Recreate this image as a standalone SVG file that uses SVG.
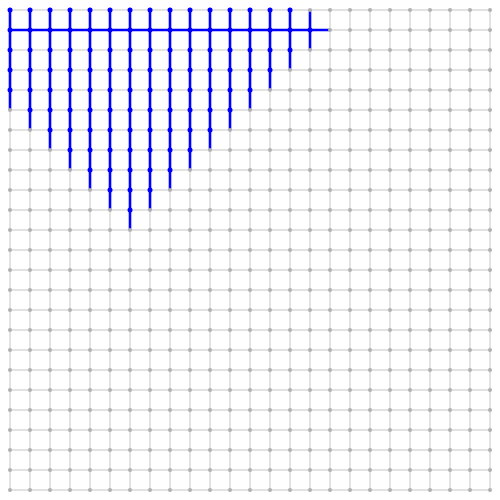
<svg xmlns="http://www.w3.org/2000/svg" width="500" height="500" viewBox="0 0 500 500">
<defs>
<style>
.grid line{stroke:#e2e2e2;stroke-width:2}
.gd{fill:#b0b0b0}
.edges line{stroke:#0000ff;stroke-width:2.6}
.bd{fill:#0000ff}
</style>
<pattern id="gp" x="0" y="0" width="20" height="20" patternUnits="userSpaceOnUse">
<circle cx="10" cy="10" r="2" class="gd"/>
</pattern>
</defs>
<rect width="500" height="500" fill="#ffffff"/>
<g class="grid">
<line x1="10" y1="10" x2="490" y2="10"/><line x1="10" y1="30" x2="490" y2="30"/><line x1="10" y1="50" x2="490" y2="50"/><line x1="10" y1="70" x2="490" y2="70"/><line x1="10" y1="90" x2="490" y2="90"/><line x1="10" y1="110" x2="490" y2="110"/><line x1="10" y1="130" x2="490" y2="130"/><line x1="10" y1="150" x2="490" y2="150"/><line x1="10" y1="170" x2="490" y2="170"/><line x1="10" y1="190" x2="490" y2="190"/><line x1="10" y1="210" x2="490" y2="210"/><line x1="10" y1="230" x2="490" y2="230"/><line x1="10" y1="250" x2="490" y2="250"/><line x1="10" y1="270" x2="490" y2="270"/><line x1="10" y1="290" x2="490" y2="290"/><line x1="10" y1="310" x2="490" y2="310"/><line x1="10" y1="330" x2="490" y2="330"/><line x1="10" y1="350" x2="490" y2="350"/><line x1="10" y1="370" x2="490" y2="370"/><line x1="10" y1="390" x2="490" y2="390"/><line x1="10" y1="410" x2="490" y2="410"/><line x1="10" y1="430" x2="490" y2="430"/><line x1="10" y1="450" x2="490" y2="450"/><line x1="10" y1="470" x2="490" y2="470"/><line x1="10" y1="490" x2="490" y2="490"/>
<line x1="10" y1="10" x2="10" y2="490"/><line x1="30" y1="10" x2="30" y2="490"/><line x1="50" y1="10" x2="50" y2="490"/><line x1="70" y1="10" x2="70" y2="490"/><line x1="90" y1="10" x2="90" y2="490"/><line x1="110" y1="10" x2="110" y2="490"/><line x1="130" y1="10" x2="130" y2="490"/><line x1="150" y1="10" x2="150" y2="490"/><line x1="170" y1="10" x2="170" y2="490"/><line x1="190" y1="10" x2="190" y2="490"/><line x1="210" y1="10" x2="210" y2="490"/><line x1="230" y1="10" x2="230" y2="490"/><line x1="250" y1="10" x2="250" y2="490"/><line x1="270" y1="10" x2="270" y2="490"/><line x1="290" y1="10" x2="290" y2="490"/><line x1="310" y1="10" x2="310" y2="490"/><line x1="330" y1="10" x2="330" y2="490"/><line x1="350" y1="10" x2="350" y2="490"/><line x1="370" y1="10" x2="370" y2="490"/><line x1="390" y1="10" x2="390" y2="490"/><line x1="410" y1="10" x2="410" y2="490"/><line x1="430" y1="10" x2="430" y2="490"/><line x1="450" y1="10" x2="450" y2="490"/><line x1="470" y1="10" x2="470" y2="490"/><line x1="490" y1="10" x2="490" y2="490"/>
</g>
<g class="edges" id="connectors">
<line x1="10" y1="30" x2="330" y2="30"/>
<line x1="10" y1="10" x2="10" y2="110"/>
<line x1="30" y1="10" x2="30" y2="130"/>
<line x1="50" y1="10" x2="50" y2="150"/>
<line x1="70" y1="10" x2="70" y2="170"/>
<line x1="90" y1="10" x2="90" y2="190"/>
<line x1="110" y1="10" x2="110" y2="210"/>
<line x1="130" y1="10" x2="130" y2="230"/>
<line x1="150" y1="10" x2="150" y2="210"/>
<line x1="170" y1="10" x2="170" y2="190"/>
<line x1="190" y1="10" x2="190" y2="170"/>
<line x1="210" y1="10" x2="210" y2="150"/>
<line x1="230" y1="10" x2="230" y2="130"/>
<line x1="250" y1="10" x2="250" y2="110"/>
<line x1="270" y1="10" x2="270" y2="90"/>
<line x1="290" y1="10" x2="290" y2="70"/>
<line x1="310" y1="10" x2="310" y2="50"/>
</g>
<rect id="grid-dots" x="0" y="0" width="500" height="500" fill="url(#gp)"/>
<g id="blue-nodes" class="bd">
<g id="col10"><circle cx="10" cy="10" r="2.5"/><circle cx="10" cy="30" r="2.5"/><circle cx="10" cy="50" r="2.5"/><circle cx="10" cy="70" r="2.5"/><circle cx="10" cy="90" r="2.5"/></g>
<g id="col30"><circle cx="30" cy="10" r="2.5"/><circle cx="30" cy="30" r="2.5"/><circle cx="30" cy="50" r="2.5"/><circle cx="30" cy="70" r="2.5"/><circle cx="30" cy="90" r="2.5"/><circle cx="30" cy="110" r="2.5"/></g>
<g id="col50"><circle cx="50" cy="10" r="2.5"/><circle cx="50" cy="30" r="2.5"/><circle cx="50" cy="50" r="2.5"/><circle cx="50" cy="70" r="2.5"/><circle cx="50" cy="90" r="2.5"/><circle cx="50" cy="110" r="2.5"/><circle cx="50" cy="130" r="2.5"/></g>
<g id="col70"><circle cx="70" cy="10" r="2.5"/><circle cx="70" cy="30" r="2.5"/><circle cx="70" cy="50" r="2.5"/><circle cx="70" cy="70" r="2.5"/><circle cx="70" cy="90" r="2.5"/><circle cx="70" cy="110" r="2.5"/><circle cx="70" cy="130" r="2.5"/><circle cx="70" cy="150" r="2.5"/></g>
<g id="col90"><circle cx="90" cy="10" r="2.5"/><circle cx="90" cy="30" r="2.5"/><circle cx="90" cy="50" r="2.5"/><circle cx="90" cy="70" r="2.5"/><circle cx="90" cy="90" r="2.5"/><circle cx="90" cy="110" r="2.5"/><circle cx="90" cy="130" r="2.5"/><circle cx="90" cy="150" r="2.5"/><circle cx="90" cy="170" r="2.5"/></g>
<g id="col110"><circle cx="110" cy="10" r="2.5"/><circle cx="110" cy="30" r="2.5"/><circle cx="110" cy="50" r="2.5"/><circle cx="110" cy="70" r="2.5"/><circle cx="110" cy="90" r="2.5"/><circle cx="110" cy="110" r="2.5"/><circle cx="110" cy="130" r="2.5"/><circle cx="110" cy="150" r="2.5"/><circle cx="110" cy="170" r="2.5"/><circle cx="110" cy="190" r="2.5"/></g>
<g id="col130"><circle cx="130" cy="10" r="2.5"/><circle cx="130" cy="30" r="2.5"/><circle cx="130" cy="50" r="2.5"/><circle cx="130" cy="70" r="2.5"/><circle cx="130" cy="90" r="2.5"/><circle cx="130" cy="110" r="2.5"/><circle cx="130" cy="130" r="2.5"/><circle cx="130" cy="150" r="2.5"/><circle cx="130" cy="170" r="2.5"/><circle cx="130" cy="190" r="2.5"/><circle cx="130" cy="210" r="2.5"/></g>
<g id="col150"><circle cx="150" cy="10" r="2.5"/><circle cx="150" cy="30" r="2.5"/><circle cx="150" cy="50" r="2.5"/><circle cx="150" cy="70" r="2.5"/><circle cx="150" cy="90" r="2.5"/><circle cx="150" cy="110" r="2.5"/><circle cx="150" cy="130" r="2.5"/><circle cx="150" cy="150" r="2.5"/><circle cx="150" cy="170" r="2.5"/><circle cx="150" cy="190" r="2.5"/></g>
<g id="col170"><circle cx="170" cy="10" r="2.5"/><circle cx="170" cy="30" r="2.5"/><circle cx="170" cy="50" r="2.5"/><circle cx="170" cy="70" r="2.5"/><circle cx="170" cy="90" r="2.5"/><circle cx="170" cy="110" r="2.5"/><circle cx="170" cy="130" r="2.5"/><circle cx="170" cy="150" r="2.5"/><circle cx="170" cy="170" r="2.5"/></g>
<g id="col190"><circle cx="190" cy="10" r="2.5"/><circle cx="190" cy="30" r="2.5"/><circle cx="190" cy="50" r="2.5"/><circle cx="190" cy="70" r="2.5"/><circle cx="190" cy="90" r="2.5"/><circle cx="190" cy="110" r="2.5"/><circle cx="190" cy="130" r="2.5"/><circle cx="190" cy="150" r="2.5"/></g>
<g id="col210"><circle cx="210" cy="10" r="2.5"/><circle cx="210" cy="30" r="2.5"/><circle cx="210" cy="50" r="2.5"/><circle cx="210" cy="70" r="2.5"/><circle cx="210" cy="90" r="2.5"/><circle cx="210" cy="110" r="2.5"/><circle cx="210" cy="130" r="2.5"/></g>
<g id="col230"><circle cx="230" cy="10" r="2.5"/><circle cx="230" cy="30" r="2.5"/><circle cx="230" cy="50" r="2.5"/><circle cx="230" cy="70" r="2.5"/><circle cx="230" cy="90" r="2.5"/><circle cx="230" cy="110" r="2.5"/></g>
<g id="col250"><circle cx="250" cy="10" r="2.5"/><circle cx="250" cy="30" r="2.5"/><circle cx="250" cy="50" r="2.5"/><circle cx="250" cy="70" r="2.5"/><circle cx="250" cy="90" r="2.5"/></g>
<g id="col270"><circle cx="270" cy="10" r="2.5"/><circle cx="270" cy="30" r="2.5"/><circle cx="270" cy="50" r="2.5"/><circle cx="270" cy="70" r="2.5"/></g>
<g id="col290"><circle cx="290" cy="10" r="2.5"/><circle cx="290" cy="30" r="2.5"/><circle cx="290" cy="50" r="2.5"/></g>
<g id="col310"><circle cx="310" cy="30" r="2.5"/></g>
</g>
</svg>
